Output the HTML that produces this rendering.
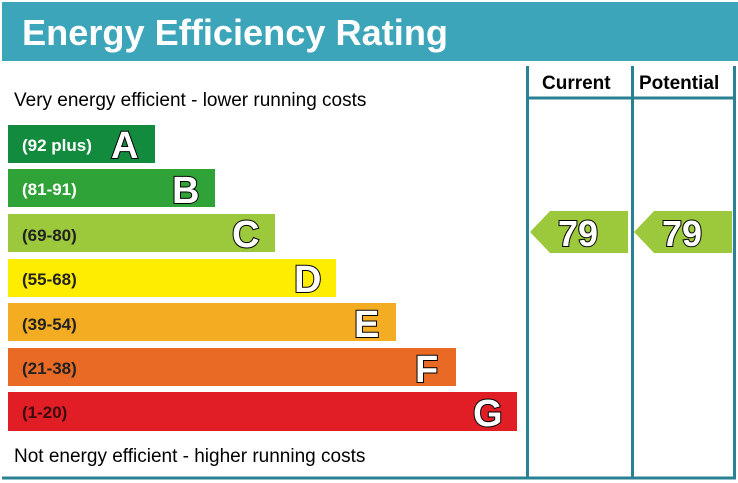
<!DOCTYPE html>
<html><head><meta charset="utf-8"><style>
html,body{margin:0;padding:0;background:#fff;width:738px;height:483px;overflow:hidden}
svg{display:block}
.l{font-family:"Liberation Sans",Arial,sans-serif;font-weight:bold;font-size:17px}
.big{font-family:"Liberation Sans",Arial,sans-serif;font-weight:bold;font-size:38px;fill:#fff;stroke:#000;stroke-width:2px;paint-order:stroke}
.t{font-family:"Liberation Sans",Arial,sans-serif;font-size:19px;fill:#000}
</style></head><body>
<svg width="738" height="483" viewBox="0 0 738 483">
<rect x="2" y="2" width="736" height="59" fill="#3da5b9"/>
<text x="22" y="45" font-family="Liberation Sans,Arial,sans-serif" font-weight="bold" font-size="36" fill="#fff" textLength="426" lengthAdjust="spacingAndGlyphs">Energy Efficiency Rating</text>
<g stroke="#2b8194" stroke-width="3" fill="none">
<line x1="527.5" y1="66" x2="527.5" y2="479"/>
<line x1="632.5" y1="66" x2="632.5" y2="479"/>
<line x1="734.5" y1="66" x2="734.5" y2="479"/>
<line x1="527" y1="98" x2="736" y2="98"/>
<line x1="2" y1="478" x2="736" y2="478"/>
</g>
<text x="542" y="89" font-family="Liberation Sans,Arial,sans-serif" font-weight="bold" font-size="19">Current</text>
<text x="639" y="89" font-family="Liberation Sans,Arial,sans-serif" font-weight="bold" font-size="19">Potential</text>
<text class="t" x="14" y="106">Very energy efficient - lower running costs</text>
<text class="t" x="14" y="462">Not energy efficient - higher running costs</text>
<rect x="8" y="125" width="147" height="38" fill="#138b3f"/>
<text class="l" x="22" y="151" fill="#fff">(92 plus)</text><text class="big" x="111" y="158">A</text>
<rect x="8" y="169" width="207" height="38" fill="#2fa238"/>
<text class="l" x="22" y="195" fill="#fff">(81-91)</text><text class="big" x="172" y="203">B</text>
<rect x="8" y="214" width="267" height="38" fill="#9bc93b"/>
<text class="l" x="22" y="241" fill="#222">(69-80)</text><text class="big" x="232" y="247">C</text>
<rect x="8" y="259" width="328" height="38" fill="#ffed00"/>
<text class="l" x="22" y="285" fill="#222">(55-68)</text><text class="big" x="294" y="292">D</text>
<rect x="8" y="303" width="388" height="38" fill="#f4ad22"/>
<text class="l" x="22" y="330" fill="#222">(39-54)</text><text class="big" x="354" y="337">E</text>
<rect x="8" y="348" width="448" height="38" fill="#e96a25"/>
<text class="l" x="22" y="374" fill="#222">(21-38)</text><text class="big" x="415" y="382">F</text>
<rect x="8" y="392" width="509" height="39" fill="#e11e26"/>
<text class="l" x="22" y="418" fill="#3a0c0c">(1-20)</text><text class="big" x="473" y="426">G</text>
<polygon points="530,232 550,211 628,211 628,253 550,253" fill="#9bc93b"/>
<text class="big" x="558" y="246" style="font-size:36px">79</text>
<polygon points="634,232 654,211 732,211 732,253 654,253" fill="#9bc93b"/>
<text class="big" x="662" y="246" style="font-size:36px">79</text>
</svg>
</body></html>
